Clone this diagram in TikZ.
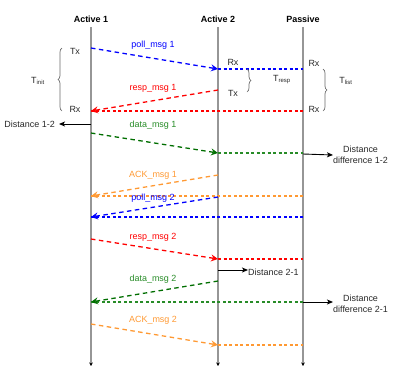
\documentclass[tikz,border=0pt]{standalone}
\usepackage{fontspec}
\setmainfont{Liberation Sans}
\usetikzlibrary{arrows.meta,decorations.pathreplacing}
\definecolor{mblue}{RGB}{0,0,255}
\definecolor{mred}{RGB}{255,0,0}
\definecolor{mgreen}{RGB}{0,110,0}
\definecolor{mgreenl}{RGB}{40,140,40}
\definecolor{morange}{RGB}{255,153,51}
\definecolor{lgrey}{RGB}{150,150,150}
\definecolor{txt}{RGB}{40,40,40}
\begin{document}
\begin{tikzpicture}[x=1bp,y=-1bp,font=\fontsize{9}{10.5}\selectfont,
  msg/.style={line width=1.3pt,dash pattern=on 4.5pt off 3.5pt,-{Stealth[length=7pt,width=7pt,inset=2.5pt]}},
  echoline/.style={color=#1,line width=1.1bp,dash pattern=on 3bp off 2.5bp,yshift=-0.5bp},
  life/.style={lgrey,line width=1.2pt,-{Stealth[black,length=3.5pt,width=3.5pt]}},
  dist/.style={black,line width=0.9pt,-{Stealth[length=6pt,width=5pt,inset=1.5pt]}},
  lbl/.style={inner sep=0pt,text=txt},
  hdr/.style={font=\fontsize{9}{10.5}\selectfont\bfseries,inner sep=0pt},
  tbrace/.style={lgrey!70!black,line width=0.7pt,decorate,decoration={brace,amplitude=4pt}}]
\useasboundingbox (0,0) rectangle (399,372);
% headers
\node[hdr] (h1) at (91,19) {Active 1};
\node[hdr] (h2) at (218,19) {Active 2};
\node[hdr] (h3) at (303,19) {Passive};
% lifelines
\coordinate (a1top) at (91,27); \coordinate (a1bot) at (91,366);
\coordinate (a2top) at (218,27); \coordinate (a2bot) at (218,366);
\coordinate (ptop) at (303,27); \coordinate (pbot) at (303,366);
\draw[life] (a1top) -- (a1bot);
\draw[life] (a2top) -- (a2bot);
\draw[life] (ptop) -- (pbot);
% endpoints
\coordinate (p1s) at (91,48);  \coordinate (p1e) at (218,69);  \coordinate (p1x) at (303,69);
\coordinate (r1s) at (218,90); \coordinate (r1e) at (91,111); \coordinate (r1x) at (303,111);
\coordinate (d1s) at (91,133); \coordinate (d1e) at (218,153); \coordinate (d1x) at (303,153);
\coordinate (k1s) at (218,175); \coordinate (k1e) at (91,196); \coordinate (k1x) at (303,196);
\coordinate (p2s) at (218,197); \coordinate (p2e) at (91,217); \coordinate (p2x) at (303,217);
\coordinate (r2s) at (91,239); \coordinate (r2e) at (218,259); \coordinate (r2x) at (303,259);
\coordinate (d2s) at (218,281); \coordinate (d2e) at (91,302); \coordinate (d2x) at (303,302);
\coordinate (k2s) at (91,324); \coordinate (k2e) at (218,345); \coordinate (k2x) at (303,345);
% echo (dotted) lines
\draw[echoline=mblue] (p1e) -- (p1x);
\draw[echoline=mred] (r1x) -- (r1e);
\draw[echoline=mgreenl] (d1e) -- (d1x);
\draw[echoline=morange] (k1x) -- (k1e);
\draw[echoline=mblue] (p2x) -- (p2e);
\draw[echoline=mred] (r2e) -- (r2x);
\draw[echoline=mgreenl] (d2x) -- (d2e);
\draw[echoline=morange] (k2e) -- (k2x);
% messages
\draw[msg,mblue] (p1s) -- (p1e);
\draw[msg,mred] (r1s) -- (r1e);
\draw[msg,mgreen] (d1s) -- (d1e);
\draw[msg,morange] (k1s) -- (k1e);
\draw[msg,mblue] (p2s) -- (p2e);
\draw[msg,mred] (r2s) -- (r2e);
\draw[msg,mgreen] (d2s) -- (d2e);
\draw[msg,morange] (k2s) -- (k2e);
% message labels
\node[lbl,text=mblue] (lp1) at (153,45) {poll\_msg 1};
\node[lbl,text=mred] (lr1) at (153,88) {resp\_msg 1};
\node[lbl,text=mgreenl] (ld1) at (153,125) {data\_msg 1};
\node[lbl,text=morange] (lk1) at (153,175) {ACK\_msg 1};
\node[lbl,text=mblue] (lp2) at (153,198) {poll\_msg 2};
\node[lbl,text=mred] (lr2) at (153,237) {resp\_msg 2};
\node[lbl,text=mgreenl] (ld2) at (153,279) {data\_msg 2};
\node[lbl,text=morange] (lk2) at (153,320) {ACK\_msg 2};
% Tx/Rx labels
\node[lbl] (tx1) at (75,51) {Tx};
\node[lbl] (rx1) at (75,109) {Rx};
\node[lbl] (rx2) at (233,62) {Rx};
\node[lbl] (tx2) at (233,93) {Tx};
\node[lbl] (rxp1) at (314,63) {Rx};
\node[lbl] (rxp2) at (314,109) {Rx};
% braces
\coordinate (bi1) at (62,111); \coordinate (bi2) at (62,48);
\draw[tbrace] (bi1) -- (bi2);
\node[lbl] (tinit) at (38,81) {T\textsubscript{init}};
\coordinate (br1) at (247,69); \coordinate (br2) at (247,92);
\draw[tbrace] (br1) -- (br2);
\node[lbl] (tresp) at (282,80) {T\textsubscript{resp}};
\coordinate (bl1) at (323,69); \coordinate (bl2) at (323,111);
\draw[tbrace] (bl1) -- (bl2);
\node[lbl] (tlist) at (346,81) {T\textsubscript{list}};
% distance arrows
\coordinate (ds1) at (91,124);
\node[lbl,anchor=east] (dist12) at (55,124) {Distance 1-2};
\coordinate (de1) at (59,124);
\draw[dist] (ds1) -- (de1);
\coordinate (dd1s) at (303,154);
\node[lbl,align=center,anchor=west] (dd12) at (333,155) {Distance\\difference 1-2};
\draw[dist] (dd1s) -- (dd12.west);
\coordinate (ds2) at (218,270);
\node[lbl,anchor=west] (dist21) at (248,272) {Distance 2-1};
\draw[dist] (ds2) -- (ds2 -| dist21.west);
\coordinate (dd2s) at (303,302);
\node[lbl,align=center,anchor=west] (dd21) at (333,304) {Distance\\difference 2-1};
\draw[dist] (dd2s) -- (dd2s -| dd21.west);
\end{tikzpicture}
\end{document}
